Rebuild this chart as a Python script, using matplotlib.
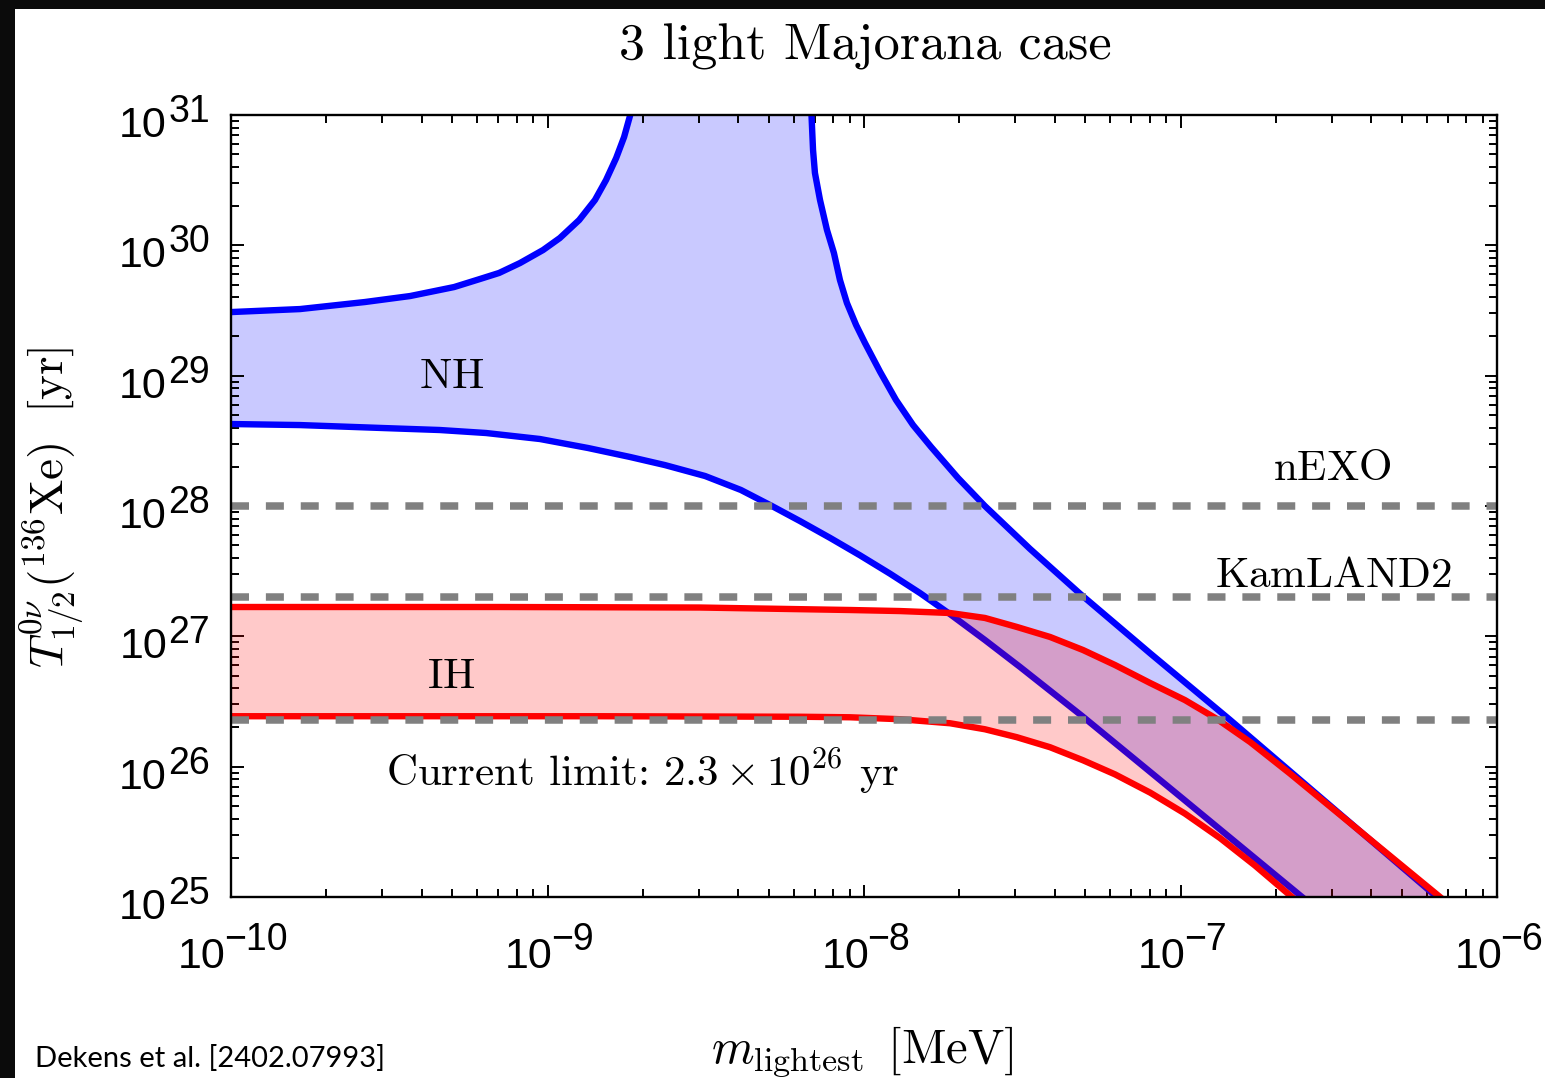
import numpy as np
import matplotlib
matplotlib.use('Agg')
import matplotlib.pyplot as plt
from matplotlib.patches import Rectangle
from matplotlib.ticker import LogLocator, NullFormatter
from matplotlib.textpath import TextPath
from matplotlib.font_manager import FontProperties

plt.rcParams['mathtext.fontset'] = 'cm'

# log10(m_lightest / MeV) and log10(T_1/2 / yr)
nh_top_left_logm = [-10.0, -9.782, -9.577, -9.434, -9.295, -9.213, -9.153, -9.087, -9.014, -8.961,
                    -8.900, -8.850, -8.815, -8.783, -8.758, -8.736, -8.730]
nh_top_left_logT = [29.488, 29.511, 29.565, 29.611, 29.680, 29.742, 29.788, 29.864, 29.964, 30.056,
                    30.194, 30.348, 30.501, 30.670, 30.831, 31.023, 31.06]

nh_top_right_logm = [-8.167, -8.161, -8.155, -8.139, -8.117, -8.095, -8.076, -8.054, -8.025, -7.997,
                     -7.949, -7.899, -7.845, -7.788, -7.703, -7.618, -7.476, -7.317, -7.096, -6.844,
                     -6.190, -6.0]
nh_top_right_logT = [31.06, 30.731, 30.555, 30.348, 30.118, 29.941, 29.734, 29.558, 29.389, 29.251,
                     29.029, 28.814, 28.621, 28.453, 28.215, 28.000, 27.672, 27.326, 26.870, 26.360,
                     25.000, 24.62]

nh_low_logm = [-10.0, -9.782, -9.517, -9.340, -9.194, -9.024, -8.872, -8.739, -8.629, -8.502, -8.389,
               -8.291, -8.202, -8.107, -8.013, -7.918, -7.823, -7.728, -7.618, -7.507, -7.308, -6.992,
               -6.616, -6.4]
nh_low_logT = [28.629, 28.621, 28.598, 28.583, 28.560, 28.514, 28.445, 28.376, 28.314, 28.230, 28.123,
               28.000, 27.884, 27.755, 27.622, 27.481, 27.332, 27.170, 26.972, 26.765, 26.383, 25.753,
               25.000, 24.57]

ih_top_logm = [-10.0, -9.150, -8.518, -8.044, -7.886, -7.728, -7.618, -7.517, -7.412, -7.308, -7.207,
               -7.096, -6.986, -6.885, -6.780, -6.654, -6.180, -6.0]
ih_top_logT = [27.225, 27.225, 27.221, 27.202, 27.194, 27.179, 27.141, 27.072, 26.995, 26.895, 26.780,
               26.642, 26.511, 26.366, 26.189, 25.947, 25.000, 24.64]

ih_low_logm = [-10.0, -8.834, -8.202, -8.044, -7.886, -7.728, -7.618, -7.517, -7.412, -7.308, -7.207,
               -7.096, -6.986, -6.875, -6.765, -6.648, -6.45]
ih_low_logT = [26.387, 26.387, 26.383, 26.379, 26.364, 26.333, 26.287, 26.226, 26.149, 26.049, 25.941,
               25.801, 25.640, 25.452, 25.242, 25.000, 24.6]

limit_T = [1e28, 2e27, 2.3e26]

x_exps = [-10, -9, -8, -7, -6]
y_exps = [25, 26, 27, 28, 29, 30, 31]

W, H = 1545, 1078
fig = plt.figure(figsize=(W / 100, H / 100), dpi=100, facecolor='#0b0b0b')
fig.add_artist(Rectangle((15 / W, 0), 1, 1 - 9 / H, transform=fig.transFigure,
                         facecolor='white', edgecolor='none', zorder=-10))
ax = fig.add_axes([231 / W, 181 / H, 1266 / W, 782 / H])
ax.set_facecolor('white')


def p10(a):
    return 10.0 ** np.asarray(a)


# NH band
nh_x = np.concatenate([p10(nh_top_left_logm), p10(nh_top_right_logm), p10(nh_low_logm)[::-1]])
nh_y = np.concatenate([p10(nh_top_left_logT), p10(nh_top_right_logT), p10(nh_low_logT)[::-1]])
ax.fill(nh_x, nh_y, color=(0, 0, 1, 0.21), lw=0, zorder=1)
for mm, tt in [(nh_top_left_logm, nh_top_left_logT), (nh_top_right_logm, nh_top_right_logT),
               (nh_low_logm, nh_low_logT)]:
    ax.plot(p10(mm), p10(tt), color='#0000ff', lw=4.6, zorder=2, solid_joinstyle='round')

# IH band
ih_x = np.concatenate([p10(ih_top_logm), p10(ih_low_logm)[::-1]])
ih_y = np.concatenate([p10(ih_top_logT), p10(ih_low_logT)[::-1]])
ax.fill(ih_x, ih_y, color=(1, 0, 0, 0.21), lw=0, zorder=3)
for mm, tt in [(ih_top_logm, ih_top_logT), (ih_low_logm, ih_low_logT)]:
    ax.plot(p10(mm), p10(tt), color='#ff0000', lw=4.6, zorder=4, solid_joinstyle='round')

# experimental sensitivities
for t in limit_T:
    ax.axhline(t, color='#808080', lw=5.4, ls=(0, (2.4, 2.25)), zorder=5)

ax.set_xscale('log')
ax.set_yscale('log')
ax.set_xlim(1e-10, 1e-6)
ax.set_ylim(1e25, 1e31)

for axis in (ax.xaxis, ax.yaxis):
    axis.set_major_locator(LogLocator(base=10, numticks=20))
    axis.set_minor_locator(LogLocator(base=10, subs=np.arange(2, 10), numticks=100))
    axis.set_minor_formatter(NullFormatter())
ax.tick_params(which='both', direction='in', top=True, right=True,
               labelbottom=False, labelleft=False, width=1.4, color='black')
ax.tick_params(which='major', length=9)
ax.tick_params(which='minor', length=6)
for sp in ax.spines.values():
    sp.set_linewidth(1.7)
    sp.set_zorder(6)

# tick labels, drawn by hand to get the large exponents
BASE_PT, EXP_PT = 31, 27
fp_base = FontProperties(family='Liberation Sans', size=BASE_PT * 100 / 72)
fp_exp = FontProperties(family='Liberation Sans', size=EXP_PT * 100 / 72)


def ink_width(s, fp):
    return TextPath((0, 0), s, prop=fp).get_extents().width


for e in y_exps:
    s = str(e)
    we = ink_width(s, fp_exp)
    ax.annotate(s, (0, 10.0 ** e), xycoords=('axes fraction', 'data'), xytext=(-21, -7),
                textcoords='offset pixels', ha='right', va='baseline',
                fontproperties=fp_exp, fontsize=EXP_PT, annotation_clip=False)
    ax.annotate('10', (0, 10.0 ** e), xycoords=('axes fraction', 'data'), xytext=(-21 - we - 5, -22),
                textcoords='offset pixels', ha='right', va='baseline',
                fontproperties=fp_base, fontsize=BASE_PT, annotation_clip=False)

for e in x_exps:
    s = '\u2212' + str(-e)
    we = ink_width(s, fp_exp)
    wb = ink_width('10', fp_base)
    tot = wb + 3 + we
    ax.annotate('10', (10.0 ** e, 0), xycoords=('data', 'axes fraction'), xytext=(-tot / 2, -71),
                textcoords='offset pixels', ha='left', va='baseline',
                fontproperties=fp_base, fontsize=BASE_PT, annotation_clip=False)
    ax.annotate(s, (10.0 ** e, 0), xycoords=('data', 'axes fraction'), xytext=(-tot / 2 + wb + 3, -53),
                textcoords='offset pixels', ha='left', va='baseline',
                fontproperties=fp_exp, fontsize=EXP_PT, annotation_clip=False)

# labels inside the plot
lab = dict(transform=ax.transAxes, ha='center', va='baseline', fontsize=31, color='black', zorder=7)
ax.text(0.1746, 0.6509, r'$\mathrm{NH}$', **lab)
ax.text(0.1742, 0.2673, r'$\mathrm{IH}$', **lab)
ax.text(0.8697, 0.5332, r'$\mathrm{nEXO}$', **lab)
ax.text(0.8705, 0.3964, r'$\mathrm{KamLAND2}$', **lab)
ax.text(0.3250, 0.1419, r'Current limit: $2.3 \times 10^{26}$ yr', family='cmr10',
        math_fontfamily='cm', **lab)

fig.text(865 / W, 1 - 59 / H, '3 light Majorana case', family='cmr10', ha='center', va='baseline',
         fontsize=37.5)
fig.text(862 / W, 1 - 1062 / H, r'$m_{\mathrm{lightest}}\ \,[\mathrm{MeV}]$', ha='center', va='baseline',
         fontsize=35)
fig.text(52 / W, 1 - 507 / H, r'$T^{0\nu}_{1/2}(^{136}\mathrm{Xe})\ \ [\mathrm{yr}]$', ha='center', va='center',
         rotation=90, fontsize=34)
fig.text(35 / W, 1 - 1067 / H, 'Dekens et al. [2402.07993]', ha='left', va='baseline',
         fontsize=21, family='Lato')

fig.savefig('out.png', dpi=100, facecolor=fig.get_facecolor())
